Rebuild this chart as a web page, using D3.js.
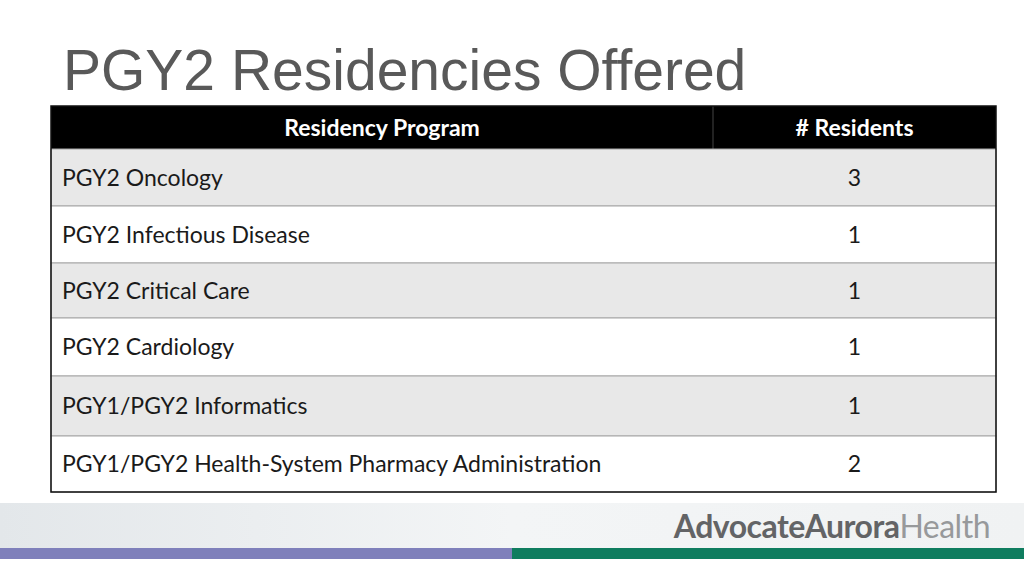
<!DOCTYPE html>
<html><head><meta charset="utf-8">
<script src="https://cdn.jsdelivr.net/npm/d3@7"></script>
<style>body{margin:0;background:#fff}svg{display:block}</style>
</head><body>
<svg id="slide" width="1024" height="576"></svg>
<script>
const headers = ["Residency Program", "# Residents"];
const programs = ["PGY2 Oncology", "PGY2 Infectious Disease", "PGY2 Critical Care", "PGY2 Cardiology",
  "PGY1/PGY2 Informatics", "PGY1/PGY2 Health-System Pharmacy Administration"];
const residents = [3, 1, 1, 1, 1, 2];
const rowEdges = [149, 206, 263, 318, 376, 436, 492];

const svg = d3.select("#slide");
const defs = svg.append("defs");
let g = defs.append("linearGradient").attr("id", "band");
g.append("stop").attr("offset", "0").attr("stop-color", "#e3e7ea");
g.append("stop").attr("offset", "0.5").attr("stop-color", "#f3f5f6");
g.append("stop").attr("offset", "1").attr("stop-color", "#f0f2f3");

// footer
svg.append("rect").attr("x", 0).attr("y", 503).attr("width", 1024).attr("height", 45).attr("fill", "url(#band)");
svg.append("rect").attr("x", 0).attr("y", 548).attr("width", 512).attr("height", 11).attr("fill", "#7f80bb");
svg.append("rect").attr("x", 512).attr("y", 548).attr("width", 512).attr("height", 11).attr("fill", "#0f7d5f");
const logo = svg.append("text").attr("x", 990).attr("y", 538).attr("text-anchor", "end")
  .attr("font-family", "Lato, 'Open Sans', sans-serif").attr("font-size", 32).attr("font-weight", "bold")
  .attr("letter-spacing", -0.5);
logo.append("tspan").attr("fill", "#636466").text("AdvocateAurora");
logo.append("tspan").attr("fill", "#97999b").attr("font-weight", "normal").text("Health");

// title
svg.append("text").attr("x", 63).attr("y", 90).attr("font-family", "'Liberation Sans', Arial, sans-serif")
  .attr("font-size", 57).attr("fill", "#595959").text("PGY2 Residencies Offered");

// table
const x = d3.scaleLinear().domain([0, 1]).range([51, 996]);
const colSplit = 713;
const fs = 23;
const tbl = svg.append("g").attr("font-family", "Lato, 'Open Sans', sans-serif");
tbl.append("rect").attr("x", x(0)).attr("y", 106).attr("width", x(1) - x(0)).attr("height", 43).attr("fill", "#000");
tbl.append("line").attr("x1", colSplit).attr("x2", colSplit).attr("y1", 106).attr("y2", 149).attr("stroke", "#444");
tbl.append("text").attr("x", (x(0) + colSplit) / 2).attr("y", 136).attr("text-anchor", "middle")
  .attr("fill", "#fff").attr("font-size", fs).attr("font-weight", "bold").text(headers[0]);
tbl.append("text").attr("x", (colSplit + x(1)) / 2).attr("y", 136).attr("text-anchor", "middle")
  .attr("fill", "#fff").attr("font-size", fs).attr("font-weight", "bold").text(headers[1]);

const rows = tbl.selectAll("g.row").data(programs).join("g").attr("class", "row");
rows.append("rect").attr("x", x(0)).attr("y", (d, i) => rowEdges[i]).attr("width", x(1) - x(0))
  .attr("height", (d, i) => rowEdges[i + 1] - rowEdges[i]).attr("fill", (d, i) => i % 2 ? "#fff" : "#e8e8e8")
  .attr("stroke", "#a6a6a6").attr("stroke-width", 1);
rows.append("text").attr("x", x(0) + 11).attr("y", (d, i) => (rowEdges[i] + rowEdges[i + 1]) / 2 + 8)
  .attr("font-size", fs).attr("fill", "#1a1a1a").text(d => d);
rows.append("text").attr("x", (colSplit + x(1)) / 2).attr("y", (d, i) => (rowEdges[i] + rowEdges[i + 1]) / 2 + 8)
  .attr("text-anchor", "middle").attr("font-size", fs).attr("fill", "#1a1a1a").text((d, i) => residents[i]);
tbl.append("rect").attr("x", x(0)).attr("y", 106).attr("width", x(1) - x(0)).attr("height", 386)
  .attr("fill", "none").attr("stroke", "#111").attr("stroke-width", 1.5);
</script>
</body></html>
